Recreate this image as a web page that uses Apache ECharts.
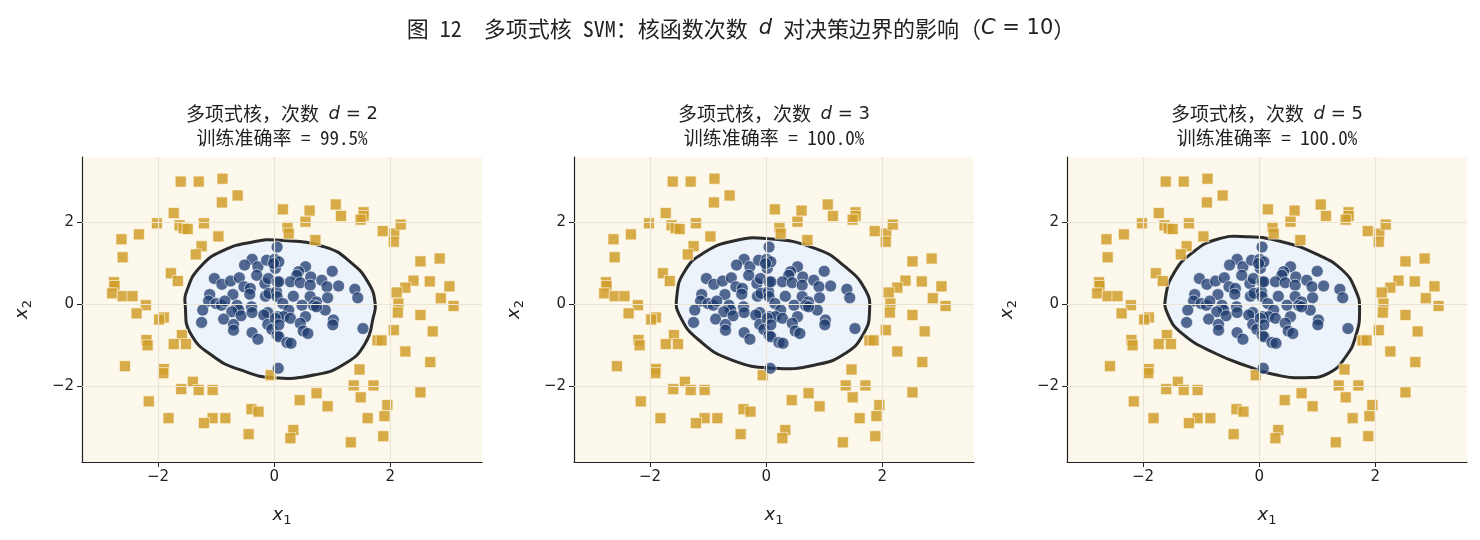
<!DOCTYPE html>
<html>
<head>
<meta charset="utf-8">
<script src="https://cdn.jsdelivr.net/npm/echarts@6/dist/echarts.min.js"></script>
<style>
html, body { margin: 0; padding: 0; background: #fff; }
#main { width: 1480px; height: 540px; }
</style>
</head>
<body>
<div id="main"></div>
<script>
// 外圈样本（方块）
const outerPoints = [
  [-1.61, 3.00], [-1.30, 3.00], [-0.89, 3.07], [-0.63, 2.66], [-0.90, 2.49], [-1.73, 2.23],
  [-2.02, 1.98], [-1.63, 1.93], [-1.56, 1.86], [-1.49, 1.84], [-1.21, 1.98], [-2.33, 1.71],
  [-2.63, 1.59], [-0.96, 1.66], [-1.25, 1.42], [-1.35, 1.22], [-2.61, 1.15], [-1.78, 0.76],
  [-1.66, 0.57], [-2.76, 0.54], [-2.75, 0.45], [-2.79, 0.27], [-2.61, 0.20], [-2.44, 0.20],
  [-2.21, -0.02], [-2.37, -0.22], [-1.90, -0.32], [-1.98, -0.37], [-1.59, -0.75], [-1.73, -0.97],
  [-1.52, -0.97], [-2.20, -0.87], [-2.18, -1.00], [-2.57, -1.51], [-1.90, -1.58], [-1.91, -1.68],
  [-1.40, -1.89], [-1.60, -2.07], [-1.30, -2.09], [-1.06, -2.09], [-2.16, -2.37], [-1.82, -2.78],
  [-1.06, -2.78], [-0.84, -2.78], [-1.21, -2.90], [-0.39, -2.56], [-0.27, -2.62], [-0.44, -3.17],
  [-0.06, -1.73], [0.15, 2.32], [0.61, 2.29], [1.06, 2.44], [1.15, 2.16], [1.54, 2.25],
  [1.54, 2.16], [1.49, 2.07], [0.54, 2.02], [0.23, 1.89], [0.25, 1.73], [0.71, 1.57],
  [1.87, 1.79], [2.07, 1.73], [2.18, 1.95], [2.06, 1.53], [2.52, 1.05], [2.85, 1.12],
  [2.40, 0.58], [2.68, 0.56], [2.26, 0.41], [2.11, 0.29], [3.02, 0.44], [2.87, 0.15],
  [2.14, 0.02], [3.09, -0.04], [2.13, -0.20], [2.52, -0.26], [2.06, -0.63], [2.73, -0.66],
  [1.78, -0.88], [1.85, -0.88], [2.26, -1.15], [2.69, -1.41], [1.47, -1.59], [1.37, -1.98],
  [1.71, -1.98], [1.49, -2.27], [2.52, -2.15], [0.73, -2.17], [0.44, -2.34], [0.92, -2.49],
  [1.95, -2.46], [1.90, -2.73], [1.61, -2.78], [1.88, -3.22], [1.32, -3.37], [0.33, -3.07],
  [0.28, -3.27]
];

// 内圈样本（圆点）
const innerPoints = [
  [0.05, 1.40], [-0.38, 1.10], [-0.51, 0.96], [-0.28, 0.92], [-0.13, 1.08], [0.01, 1.10],
  [0.02, 0.88], [-0.30, 0.71], [-1.03, 0.63], [-0.90, 0.49], [-0.75, 0.57], [-0.60, 0.65],
  [-0.52, 0.43], [-0.41, 0.39], [-0.42, 0.25], [-0.16, 0.51], [-0.10, 0.63], [0.05, 0.55],
  [-0.15, 0.20], [-0.09, 0.27], [0.04, 0.31], [-0.71, 0.24], [-1.11, 0.24], [-1.13, 0.08],
  [-1.00, 0.02], [-0.91, -0.02], [-1.23, -0.14], [-0.85, 0.08], [-0.64, -0.02], [-0.61, -0.14],
  [-0.73, -0.18], [-0.57, -0.28], [-0.39, -0.06], [-0.38, -0.20], [-0.87, -0.36], [-0.70, -0.49],
  [-0.70, -0.63], [-1.25, -0.44], [-0.38, -0.69], [-0.28, -0.85], [-0.11, -0.20], [-0.18, -0.26],
  [-0.11, -0.49], [-0.04, -0.61], [0.05, -0.75], [0.05, 0.19], [0.06, -0.30], [0.07, -1.56],
  [0.08, 1.04], [0.54, 0.92], [0.42, 0.80], [0.39, 0.71], [0.63, 0.67], [0.82, 0.59],
  [1.00, 0.81], [0.28, 0.55], [0.45, 0.53], [0.62, 0.47], [0.91, 0.43], [1.11, 0.45],
  [1.39, 0.37], [1.44, 0.16], [0.08, 0.55], [0.33, 0.20], [0.15, 0.02], [0.62, 0.19],
  [0.73, 0.06], [0.92, 0.16], [0.48, -0.02], [0.68, -0.03], [0.88, -0.14], [0.25, -0.14],
  [0.16, -0.30], [0.28, -0.34], [0.54, -0.30], [0.45, -0.46], [0.02, -0.34], [0.08, -0.50],
  [1.02, -0.38], [1.01, -0.50], [0.50, -0.65], [0.58, -0.71], [0.08, -0.79], [0.22, -0.93],
  [0.29, -0.95], [1.53, -0.59], [0.73, -0.06], [-0.01, 1.00]
];

// 决策边界（从图上读取的轮廓点）
const boundaryD2 = [
  [0.05, 1.57], [0.88, 1.40], [1.34, 1.00], [1.63, 0.51], [1.74, 0.02], [1.71, -0.30],
  [1.57, -0.95], [1.23, -1.44], [0.71, -1.72], [-0.02, -1.79], [-0.58, -1.60], [-1.04, -1.28],
  [-1.44, -0.71], [-1.53, -0.06], [-1.50, 0.35], [-1.27, 0.92], [-0.87, 1.32], [-0.35, 1.53]
];
const boundaryD3 = [
  [-0.01, 1.61], [0.84, 1.37], [1.36, 0.92], [1.71, 0.35], [1.78, -0.18], [1.68, -0.71],
  [1.36, -1.20], [0.84, -1.48], [0.16, -1.56], [-0.59, -1.36], [-1.16, -0.87], [-1.48, -0.30],
  [-1.54, 0.19], [-1.39, 0.84], [-1.05, 1.28], [-0.59, 1.54]
];
const boundaryD5 = [
  [-0.18, 1.65], [0.39, 1.53], [0.97, 1.24], [1.43, 0.84], [1.66, 0.35], [1.73, -0.14],
  [1.66, -0.79], [1.49, -1.28], [1.20, -1.68], [0.79, -1.79], [0.28, -1.72], [-0.18, -1.52],
  [-0.75, -1.20], [-1.33, -0.71], [-1.58, -0.22], [-1.61, 0.19], [-1.47, 0.76], [-1.17, 1.24],
  [-0.72, 1.59]
];

const degrees = [2, 3, 5];
const accuracies = ['99.5%', '100.0%', '100.0%'];
const boundaries = [boundaryD2, boundaryD3, boundaryD5];
const tickValues = [-2, 0, 2];
const xRange = [-3.31, 3.58];
const yRange = [-3.85, 3.60];

const gridLefts = [82, 574, 1067];
const gridWidth = 400;
const gridTop = 157;
const gridHeight = 305;

const cjk = '"Noto Sans Mono CJK SC", "Noto Sans CJK SC", sans-serif';
const mathRich = {
  i: { fontFamily: 'DejaVu Sans', fontStyle: 'italic', fontSize: 18, color: '#222' },
  s: { fontFamily: 'DejaVu Sans', fontSize: 13, color: '#222', padding: [10, 0, 0, 0] }
};
const minus = v => (v < 0 ? '\u2212' + Math.abs(v) : String(v));

function boundaryRender(pts) {
  return function (params, api) {
    if (params.dataIndex !== 0) return null;
    return {
      type: 'polygon',
      shape: { points: pts.map(p => api.coord(p)), smooth: 0.5 },
      style: { fill: '#edf3fb', stroke: '#2b2b2b', lineWidth: 3 }
    };
  };
}

const grids = [], xAxes = [], yAxes = [], series = [], graphics = [];

degrees.forEach((d, k) => {
  grids.push({
    left: gridLefts[k], top: gridTop, width: gridWidth, height: gridHeight,
    show: true, backgroundColor: '#fdf8ec', borderWidth: 0
  });
  xAxes.push({
    gridIndex: k, type: 'value', min: xRange[0], max: xRange[1],
    axisLine: { onZero: false, lineStyle: { color: '#222', width: 1.2 } },
    axisTick: { customValues: tickValues, length: 5, lineStyle: { color: '#222' } },
    axisLabel: { customValues: tickValues, formatter: minus, fontSize: 15, color: '#222', margin: 8, fontFamily: 'DejaVu Sans' },
    splitLine: { show: false },
    name: '{i|x}{s|1}', nameLocation: 'middle', nameGap: 42,
    nameTextStyle: { rich: mathRich }
  });
  yAxes.push({
    gridIndex: k, type: 'value', min: yRange[0], max: yRange[1],
    axisLine: { show: true, onZero: false, lineStyle: { color: '#222', width: 1.2 } },
    axisTick: { show: true, customValues: tickValues, length: 5, lineStyle: { color: '#222' } },
    axisLabel: { customValues: tickValues, formatter: minus, fontSize: 15, color: '#222', margin: 8, fontFamily: 'DejaVu Sans' },
    splitLine: { show: false },
    name: '{i|x}{s|2}', nameLocation: 'middle', nameGap: 48, nameRotate: 90,
    nameTextStyle: { rich: mathRich }
  });

  series.push({
    type: 'custom', xAxisIndex: k, yAxisIndex: k, z: 1, silent: true,
    data: boundaries[k], renderItem: boundaryRender(boundaries[k])
  });
  series.push({
    type: 'scatter', xAxisIndex: k, yAxisIndex: k, z: 2, data: [], silent: true,
    markLine: {
      silent: true, symbol: ['none', 'none'], label: { show: false },
      lineStyle: { color: '#ebe5d6', width: 1.2, type: 'solid' },
      data: tickValues.map(v => ({ xAxis: v })).concat(tickValues.map(v => ({ yAxis: v })))
    }
  });
  series.push({
    type: 'scatter', xAxisIndex: k, yAxisIndex: k, z: 3, data: outerPoints,
    symbol: 'rect', symbolSize: 11,
    itemStyle: { color: '#d09d2a', opacity: 0.85, borderColor: '#fff8e8', borderWidth: 0.8 }
  });
  series.push({
    type: 'scatter', xAxisIndex: k, yAxisIndex: k, z: 4, data: innerPoints,
    symbol: 'circle', symbolSize: 12,
    itemStyle: { color: '#1b3a6e', opacity: 0.75, borderColor: '#ffffff', borderWidth: 0.8 }
  });

  const cx = gridLefts[k] + gridWidth / 2;
  graphics.push({
    type: 'text', x: cx, y: 114,
    style: {
      text: '多项式核，次数 {i|d}{e| = ' + d + '}',
      font: '19px ' + cjk, fill: '#222', align: 'center', verticalAlign: 'middle',
      rich: { i: { fontFamily: 'DejaVu Sans', fontStyle: 'italic', fontSize: 18 }, e: { fontFamily: 'DejaVu Sans', fontSize: 18 } }
    }
  });
  graphics.push({
    type: 'text', x: cx, y: 138,
    style: { text: '训练准确率 = ' + accuracies[k], font: '19px ' + cjk, fill: '#222', align: 'center', verticalAlign: 'middle' }
  });
});

graphics.push({
  type: 'text', x: 741, y: 29,
  style: {
    text: '图 12  多项式核 SVM：核函数次数 {i|d} 对决策边界的影响（{i|C}{e| = 10}）',
    font: '22px ' + cjk, fill: '#222', align: 'center', verticalAlign: 'middle',
    rich: { i: { fontFamily: 'DejaVu Sans', fontStyle: 'italic', fontSize: 21 }, e: { fontFamily: 'DejaVu Sans', fontSize: 21 } }
  }
});

const chart = echarts.init(document.getElementById('main'), null, { renderer: 'canvas' });
chart.setOption({
  animation: false,
  backgroundColor: '#ffffff',
  textStyle: { fontFamily: cjk },
  grid: grids,
  xAxis: xAxes,
  yAxis: yAxes,
  series: series,
  graphic: graphics
});
</script>
</body>
</html>
